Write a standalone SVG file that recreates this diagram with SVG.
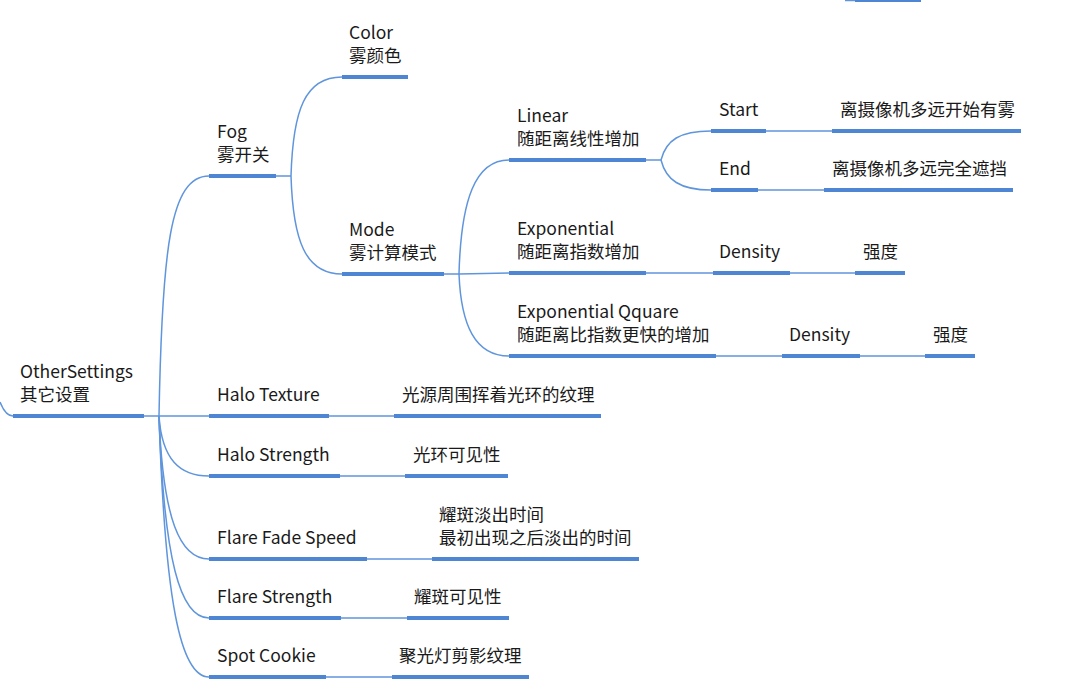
<svg xmlns="http://www.w3.org/2000/svg" width="1077" height="696" viewBox="0 0 1077 696">
<style>
text{font-family:"Noto Sans CJK SC","Noto Sans",sans-serif;font-size:17.5px;fill:#1a1a1a}
.u{stroke:#4f86d4;stroke-width:4;fill:none}
.c{stroke:#5f95dc;stroke-width:1.5;fill:none}
</style>
<rect width="1077" height="696" fill="#ffffff"/>
<g id="connectors">
<path class="c" d="M0,402 C4,412 8,416 13,416"/>
<path class="c" d="M845,0.5 L855,0.5"/>
<path class="c" d="M144,416 L159,416"/>
<path class="c" d="M159,416 C162,250 170,176 209,176"/>
<path class="c" d="M159,416 L209,416"/>
<path class="c" d="M159,416 C162,460 180,476 209,476"/>
<path class="c" d="M159,416 C163,520 180,559 209,559"/>
<path class="c" d="M159,416 C164,560 180,618 209,618"/>
<path class="c" d="M159,416 C165,600 180,677 209,677"/>
<path class="c" d="M276,176 L291,176"/>
<path class="c" d="M291,176 C293,110 305,77 342,77"/>
<path class="c" d="M291,176 C293,240 305,274 342,274"/>
<path class="c" d="M444,274 L459,274"/>
<path class="c" d="M459,274 C461,200 475,160 509,160"/>
<path class="c" d="M459,274 L509,273"/>
<path class="c" d="M459,274 C461,325 475,356 509,356"/>
<path class="c" d="M646,160 L661,160"/>
<path class="c" d="M661,160 C666,140 680,131 711,131"/>
<path class="c" d="M661,160 C666,180 680,190 711,190"/>
<path class="c" d="M766,131 L832,131"/>
<path class="c" d="M758,190 L824,190"/>
<path class="c" d="M646,273 L713,273"/>
<path class="c" d="M790,273 L855,273"/>
<path class="c" d="M716,356 L782,356"/>
<path class="c" d="M860,356 L925,356"/>
<path class="c" d="M329,416 L394,416"/>
<path class="c" d="M340,476 L405,476"/>
<path class="c" d="M367,559 L432,559"/>
<path class="c" d="M341,618 L407,618"/>
<path class="c" d="M326,677 L392,677"/>
</g>
<g id="fragment-top"><line class="u" x1="855" y1="0" x2="921" y2="0"/></g>
<g id="root"><text x="20" y="378">OtherSettings</text><text x="20" y="401">其它设置</text><line class="u" x1="13" y1="416" x2="144" y2="416"/></g>
<g id="fog"><text x="217" y="138">Fog</text><text x="217" y="161">雾开关</text><line class="u" x1="209" y1="176" x2="276" y2="176"/></g>
<g id="color"><text x="349" y="39">Color</text><text x="349" y="62">雾颜色</text><line class="u" x1="342" y1="77" x2="408" y2="77"/></g>
<g id="mode"><text x="349" y="236">Mode</text><text x="349" y="259">雾计算模式</text><line class="u" x1="342" y1="274" x2="444" y2="274"/></g>
<g id="linear"><text x="517" y="122">Linear</text><text x="517" y="145">随距离线性增加</text><line class="u" x1="509" y1="160" x2="646" y2="160"/></g>
<g id="start"><text x="719" y="116">Start</text><line class="u" x1="711" y1="131" x2="766" y2="131"/></g>
<g id="start-desc"><text x="840" y="116">离摄像机多远开始有雾</text><line class="u" x1="832" y1="131" x2="1021" y2="131"/></g>
<g id="end"><text x="719" y="175">End</text><line class="u" x1="711" y1="190" x2="758" y2="190"/></g>
<g id="end-desc"><text x="832" y="175">离摄像机多远完全遮挡</text><line class="u" x1="824" y1="190" x2="1013" y2="190"/></g>
<g id="exponential"><text x="517" y="235">Exponential</text><text x="517" y="258">随距离指数增加</text><line class="u" x1="509" y1="273" x2="646" y2="273"/></g>
<g id="exp-density"><text x="719" y="258">Density</text><line class="u" x1="713" y1="273" x2="790" y2="273"/></g>
<g id="exp-density-desc"><text x="863" y="258">强度</text><line class="u" x1="855" y1="273" x2="905" y2="273"/></g>
<g id="exp-square"><text x="517" y="318">Exponential Qquare</text><text x="517" y="341">随距离比指数更快的增加</text><line class="u" x1="509" y1="356" x2="716" y2="356"/></g>
<g id="sq-density"><text x="789" y="341">Density</text><line class="u" x1="782" y1="356" x2="860" y2="356"/></g>
<g id="sq-density-desc"><text x="933" y="341">强度</text><line class="u" x1="925" y1="356" x2="975" y2="356"/></g>
<g id="halo-texture"><text x="217" y="401">Halo Texture</text><line class="u" x1="209" y1="416" x2="329" y2="416"/></g>
<g id="halo-texture-desc"><text x="402" y="401">光源周围挥着光环的纹理</text><line class="u" x1="394" y1="416" x2="601" y2="416"/></g>
<g id="halo-strength"><text x="217" y="461">Halo Strength</text><line class="u" x1="209" y1="476" x2="340" y2="476"/></g>
<g id="halo-strength-desc"><text x="413" y="461">光环可见性</text><line class="u" x1="405" y1="476" x2="508" y2="476"/></g>
<g id="flare-fade"><text x="217" y="544">Flare Fade Speed</text><line class="u" x1="209" y1="559" x2="367" y2="559"/></g>
<g id="flare-fade-desc"><text x="439" y="521">耀斑淡出时间</text><text x="439" y="544">最初出现之后淡出的时间</text><line class="u" x1="432" y1="559" x2="639" y2="559"/></g>
<g id="flare-strength"><text x="217" y="603">Flare Strength</text><line class="u" x1="209" y1="618" x2="341" y2="618"/></g>
<g id="flare-strength-desc"><text x="414" y="603">耀斑可见性</text><line class="u" x1="407" y1="618" x2="509" y2="618"/></g>
<g id="spot-cookie"><text x="217" y="662">Spot Cookie</text><line class="u" x1="209" y1="677" x2="326" y2="677"/></g>
<g id="spot-cookie-desc"><text x="399" y="662">聚光灯剪影纹理</text><line class="u" x1="392" y1="677" x2="529" y2="677"/></g>
</svg>
